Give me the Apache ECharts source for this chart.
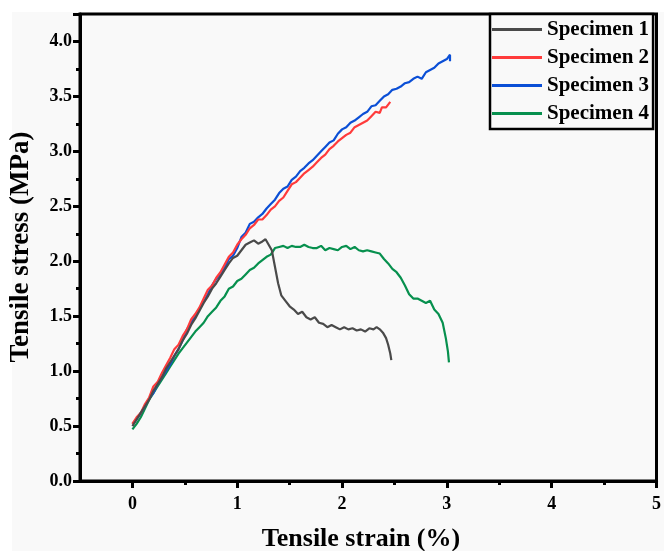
<!DOCTYPE html>
<html>
<head>
<meta charset="utf-8">
<script src="https://cdn.jsdelivr.net/npm/echarts@6/dist/echarts.min.js"></script>
<style>
    html, body { margin: 0; padding: 0; background: #ffffff; }
    #chart { width: 664px; height: 551px; }
</style>
</head>
<body>
<div id="chart"></div>
<script>
    // strain (%) / stress (MPa)
    var s1Strain = [0.00,0.04,0.08,0.12,0.16,0.20,0.24,0.28,0.32,0.36,0.40,0.44,0.48,0.52,0.56,0.60,0.64,0.68,0.72,0.76,0.80,0.84,0.88,0.92,0.96,1.00,1.04,1.08,1.12,1.16,1.20,1.24,1.27,1.30,1.33,1.36,1.39,1.42,1.46,1.50,1.54,1.58,1.62,1.66,1.70,1.74,1.78,1.82,1.86,1.90,1.94,1.98,2.02,2.06,2.10,2.14,2.18,2.22,2.26,2.30,2.33,2.36,2.39,2.42,2.44,2.46,2.47];
    var s1Stress = [0.50,0.56,0.62,0.68,0.74,0.82,0.88,0.94,1.02,1.08,1.14,1.20,1.28,1.34,1.42,1.48,1.55,1.62,1.68,1.75,1.80,1.86,1.92,1.98,2.03,2.05,2.10,2.15,2.17,2.19,2.16,2.18,2.20,2.15,2.10,1.95,1.80,1.69,1.64,1.59,1.56,1.52,1.54,1.49,1.47,1.49,1.44,1.43,1.40,1.42,1.40,1.38,1.40,1.38,1.39,1.37,1.38,1.36,1.39,1.38,1.40,1.38,1.35,1.30,1.24,1.16,1.10];

    var s2Strain = [0.00,0.04,0.08,0.12,0.16,0.20,0.24,0.28,0.32,0.36,0.40,0.44,0.48,0.52,0.56,0.60,0.64,0.68,0.72,0.76,0.80,0.84,0.88,0.92,0.96,1.00,1.04,1.08,1.12,1.16,1.20,1.24,1.28,1.32,1.36,1.40,1.44,1.48,1.52,1.56,1.60,1.64,1.68,1.72,1.76,1.80,1.84,1.88,1.92,1.96,2.00,2.04,2.08,2.12,2.16,2.20,2.24,2.28,2.32,2.36,2.38,2.42,2.46];
    var s2Stress = [0.52,0.58,0.62,0.70,0.76,0.86,0.90,0.98,1.05,1.12,1.20,1.24,1.32,1.38,1.47,1.52,1.58,1.66,1.74,1.78,1.85,1.90,1.97,2.04,2.08,2.15,2.20,2.24,2.30,2.33,2.38,2.38,2.42,2.47,2.50,2.55,2.58,2.64,2.70,2.72,2.76,2.80,2.83,2.86,2.90,2.94,2.97,3.02,3.05,3.09,3.12,3.15,3.17,3.22,3.24,3.26,3.28,3.32,3.36,3.35,3.40,3.40,3.45];

    var s3Strain = [0.00,0.04,0.08,0.12,0.16,0.20,0.24,0.28,0.32,0.36,0.40,0.44,0.48,0.52,0.56,0.60,0.64,0.68,0.72,0.76,0.80,0.84,0.88,0.92,0.96,1.00,1.04,1.08,1.12,1.16,1.20,1.24,1.28,1.32,1.36,1.40,1.44,1.48,1.52,1.56,1.60,1.64,1.68,1.72,1.76,1.80,1.84,1.88,1.92,1.96,2.00,2.04,2.08,2.12,2.16,2.20,2.24,2.28,2.32,2.36,2.40,2.44,2.48,2.52,2.56,2.60,2.64,2.68,2.72,2.76,2.80,2.84,2.88,2.92,2.96,3.00,3.03,3.03];
    var s3Stress = [0.52,0.56,0.62,0.68,0.75,0.80,0.88,0.94,1.00,1.06,1.14,1.20,1.28,1.38,1.44,1.50,1.57,1.63,1.70,1.78,1.84,1.88,1.94,2.02,2.05,2.12,2.22,2.26,2.34,2.36,2.40,2.43,2.48,2.52,2.56,2.62,2.66,2.68,2.74,2.77,2.82,2.85,2.89,2.92,2.96,3.00,3.04,3.08,3.10,3.16,3.20,3.22,3.26,3.28,3.31,3.34,3.36,3.41,3.42,3.46,3.50,3.52,3.56,3.57,3.59,3.62,3.63,3.66,3.68,3.66,3.72,3.74,3.76,3.80,3.82,3.84,3.88,3.82];

    var s4Strain = [0.00,0.04,0.08,0.12,0.16,0.20,0.24,0.28,0.32,0.36,0.40,0.44,0.48,0.52,0.56,0.60,0.64,0.68,0.72,0.76,0.80,0.84,0.88,0.92,0.96,1.00,1.04,1.08,1.12,1.16,1.20,1.24,1.28,1.32,1.36,1.40,1.44,1.48,1.52,1.56,1.60,1.64,1.68,1.72,1.76,1.80,1.84,1.88,1.92,1.96,2.00,2.04,2.08,2.12,2.16,2.20,2.24,2.28,2.32,2.36,2.40,2.44,2.48,2.52,2.56,2.60,2.64,2.68,2.72,2.76,2.80,2.84,2.88,2.92,2.96,2.99,3.01,3.02];
    var s4Stress = [0.47,0.52,0.58,0.66,0.74,0.80,0.86,0.92,0.98,1.04,1.10,1.16,1.21,1.26,1.31,1.36,1.40,1.44,1.50,1.54,1.58,1.64,1.68,1.75,1.77,1.82,1.84,1.88,1.92,1.94,1.98,2.01,2.04,2.06,2.12,2.13,2.14,2.12,2.14,2.13,2.13,2.15,2.13,2.12,2.12,2.14,2.10,2.12,2.11,2.10,2.13,2.14,2.11,2.13,2.10,2.09,2.10,2.09,2.08,2.07,2.02,1.98,1.93,1.90,1.85,1.78,1.70,1.66,1.66,1.64,1.62,1.64,1.56,1.52,1.44,1.30,1.18,1.08];

    var seriesNames = ['Specimen 1', 'Specimen 2', 'Specimen 3', 'Specimen 4'];
    var seriesColors = ['#4a4a4a', '#ff3b3b', '#0b4fd6', '#07904e'];
    var xLabels = [0, 1, 2, 3, 4, 5];
    var xMinor = [0.5, 1.5, 2.5, 3.5, 4.5];

    var strains = [s1Strain, s2Strain, s3Strain, s4Strain];
    var stresses = [s1Stress, s2Stress, s3Stress, s4Stress];

    var font = '"Liberation Serif", "Times New Roman", serif';
    var myChart = echarts.init(document.getElementById('chart'));

    let series = seriesNames.map(function (name, i) {
        return {
            name: name,
            type: 'line',
            xAxisIndex: 0,
            yAxisIndex: 0,
            symbol: 'none',
            lineStyle: { width: 2.2, color: seriesColors[i] },
            itemStyle: { color: seriesColors[i] },
            z: 5 - i,
            data: strains[i].map(function (x, k) { return [x, stresses[i][k]]; })
        };
    });

    let option = {
        backgroundColor: '#ffffff',
        animation: false,
        graphic: [
            { type: 'rect', shape: { x: 12, y: 12, width: 652, height: 539 }, style: { fill: '#f9f9f9' }, z: -10 },
            { type: 'text', x: 361, y: 539, style: { text: 'Tensile strain (%)', font: 'bold 26px ' + font, fill: '#000', textAlign: 'center', textVerticalAlign: 'middle' } },
            { type: 'text', x: 21, y: 247, rotation: Math.PI / 2, style: { text: 'Tensile stress (MPa)', font: 'bold 27px ' + font, fill: '#000', textAlign: 'center', textVerticalAlign: 'middle' } }
        ],
        grid: {
            left: 80, right: 5, top: 14, bottom: 70,
            show: true, borderColor: '#000', borderWidth: 3, backgroundColor: 'transparent'
        },
        legend: {
            orient: 'vertical',
            left: 490, top: 14,
            icon: 'rect',
            itemWidth: 50, itemHeight: 3, itemGap: 7,
            padding: [5, 4, 5, 2],
            borderColor: '#000', borderWidth: 2.5,
            backgroundColor: '#f9f9f9',
            data: seriesNames,
            textStyle: { fontFamily: font, fontWeight: 'bold', fontSize: 21, color: '#000', lineHeight: 20 }
        },
        xAxis: [{
            type: 'value', min: -0.5, max: 5,
            axisLine: { onZero: false, lineStyle: { color: '#000', width: 3 } },
            axisTick: { customValues: xLabels, length: 7, lineStyle: { color: '#000', width: 3 } },
            axisLabel: { customValues: xLabels, margin: 14, fontFamily: font, fontWeight: 'bold', fontSize: 18, color: '#000' },
            splitLine: { show: false }
        }, {
            // minor ticks only, moved down onto the bottom axis line
            type: 'value', min: -0.5, max: 5, position: 'top', offset: -467,
            axisLine: { show: false, onZero: false },
            axisTick: { inside: true, customValues: xMinor, length: 4, lineStyle: { color: '#000', width: 3 } },
            axisLabel: { show: false },
            splitLine: { show: false }
        }],
        yAxis: {
            type: 'value', min: 0, max: 4.25, interval: 0.5,
            axisLine: { onZero: false, lineStyle: { color: '#000', width: 3 } },
            axisTick: { length: 7, lineStyle: { color: '#000', width: 3 } },
            minorTick: { show: true, splitNumber: 2, length: 4, lineStyle: { color: '#000', width: 3 } },
            axisLabel: {
                margin: 8, fontFamily: font, fontWeight: 'bold', fontSize: 18, color: '#000',
                formatter: function (v) { return v > 4.01 ? '' : v.toFixed(1); }
            },
            splitLine: { show: false }
        },
        series: series
    };
    myChart.setOption(option);
</script>
</body>
</html>
